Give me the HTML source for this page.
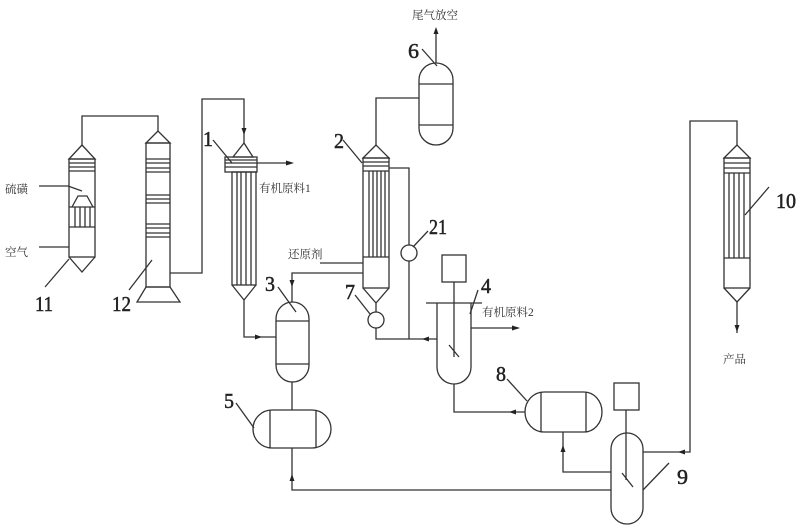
<!DOCTYPE html>
<html><head><meta charset="utf-8"><style>
html,body{margin:0;padding:0;background:#fff;}
svg{display:block;}
.n{font-family:"Liberation Serif",serif;font-size:21px;fill:#222;stroke:#222;stroke-width:0.5;}
.c{font-family:"Liberation Serif","Noto Serif CJK SC",serif;font-size:11.5px;fill:#333;}
</style></head><body>
<svg width="800" height="530" viewBox="0 0 800 530" xmlns="http://www.w3.org/2000/svg">
<g fill="none" stroke="#333" stroke-width="1.3">
<!-- Column 11 -->
<polyline points="82,145 82,116 158,116 158,131"/>
<polygon points="82,145 69,159 95,159"/>
<rect x="69" y="159" width="26" height="98"/>
<polyline points="69,257 82,272 95,257"/>
<line x1="69" y1="163" x2="95" y2="163"/><line x1="69" y1="167" x2="95" y2="167"/><line x1="69" y1="171" x2="95" y2="171"/>
<polyline points="72,207 78,196 87,196 93,207"/>
<line x1="69" y1="207" x2="95" y2="207"/><line x1="69" y1="227" x2="95" y2="227"/>
<line x1="75" y1="207" x2="75" y2="227"/><line x1="80" y1="207" x2="80" y2="227"/><line x1="85" y1="207" x2="85" y2="227"/><line x1="90" y1="207" x2="90" y2="227"/>
<polyline points="39,186 68,186 82,191"/>
<line x1="39" y1="247" x2="69" y2="247"/>
<line x1="69" y1="259" x2="45" y2="287"/>
<!-- Column 12 -->
<polygon points="158,131 146,143 170,143"/>
<rect x="146" y="143" width="24" height="144"/>
<line x1="146" y1="159" x2="170" y2="159"/><line x1="146" y1="163" x2="170" y2="163"/><line x1="146" y1="168" x2="170" y2="168"/><line x1="146" y1="172" x2="170" y2="172"/>
<line x1="146" y1="195" x2="170" y2="195"/><line x1="146" y1="199" x2="170" y2="199"/><line x1="146" y1="203" x2="170" y2="203"/>
<line x1="146" y1="224" x2="170" y2="224"/><line x1="146" y1="228" x2="170" y2="228"/><line x1="146" y1="233" x2="170" y2="233"/><line x1="146" y1="237" x2="170" y2="237"/>
<polygon points="146,287 170,287 180,302 137,302"/>
<polyline points="170,273 202,273 202,99 244,99 244,143"/>
<line x1="152" y1="260" x2="129" y2="290"/>
<!-- Column 1 -->
<polygon points="244,143 233,157 253,157"/>
<rect x="225" y="157" width="32" height="15"/>
<line x1="225" y1="160" x2="257" y2="160"/><line x1="225" y1="163" x2="257" y2="163"/><line x1="225" y1="167" x2="257" y2="167"/>
<rect x="232" y="172" width="24" height="113"/>
<line x1="237" y1="172" x2="237" y2="285"/><line x1="241" y1="172" x2="241" y2="285"/><line x1="246" y1="172" x2="246" y2="285"/><line x1="251" y1="172" x2="251" y2="285"/>
<polyline points="232,285 244,300 256,285"/>
<line x1="257" y1="163" x2="290" y2="163"/>
<line x1="213" y1="140" x2="232" y2="163"/>
<polyline points="244,300 244,337 276,337"/>
<!-- Vessel 3 -->
<path d="M276,319 A16.5,17 0 0 1 309,319 L309,365 A16.5,17 0 0 1 276,365 Z"/>
<line x1="276" y1="321" x2="309" y2="321"/><line x1="276" y1="364" x2="309" y2="364"/>
<line x1="278" y1="287" x2="296" y2="312"/>
<polyline points="363,273 292,273 292,302"/>
<line x1="292" y1="382" x2="292" y2="410"/>
<!-- Vessel 5 -->
<path d="M272,410 L312,410 A19,19 0 0 1 312,448 L272,448 A19,19 0 0 1 272,410 Z"/>
<line x1="270" y1="410" x2="270" y2="448"/><line x1="316" y1="410" x2="316" y2="448"/>
<line x1="236" y1="403" x2="254" y2="428"/>
<polyline points="292,448 292,490 611,490"/>
<!-- Column 2 -->
<polyline points="376,145 376,98 419,98"/>
<polygon points="376,145 363,158 389,158"/>
<rect x="363" y="158" width="26" height="130"/>
<line x1="363" y1="162" x2="389" y2="162"/><line x1="363" y1="166" x2="389" y2="166"/><line x1="363" y1="171" x2="389" y2="171"/>
<line x1="369" y1="171" x2="369" y2="257"/><line x1="373" y1="171" x2="373" y2="257"/><line x1="377" y1="171" x2="377" y2="257"/><line x1="381" y1="171" x2="381" y2="257"/><line x1="385" y1="171" x2="385" y2="257"/>
<line x1="363" y1="257" x2="389" y2="257"/>
<polyline points="363,288 376,303 389,288"/>
<line x1="376" y1="303" x2="376" y2="312"/>
<circle cx="376" cy="320" r="8"/>
<polyline points="376,328 376,339 437,339"/>
<line x1="320" y1="263" x2="363" y2="263"/>
<line x1="343" y1="140" x2="362" y2="163"/>
<line x1="355" y1="295" x2="370" y2="314"/>
<polyline points="389,168 409,168 409,245"/>
<circle cx="409" cy="253" r="8"/>
<line x1="409" y1="261" x2="409" y2="339"/>
<line x1="428" y1="231" x2="413" y2="247"/>
<!-- Vessel 6 -->
<path d="M419,80 A17,17 0 0 1 453,80 L453,128 A17,17 0 0 1 419,128 Z"/>
<line x1="419" y1="84" x2="453" y2="84"/><line x1="419" y1="125" x2="453" y2="125"/>
<line x1="436" y1="63" x2="436" y2="30"/>
<line x1="422" y1="49" x2="437" y2="66"/>
<!-- Vessel 4 -->
<rect x="442" y="255" width="24" height="27"/>
<line x1="454" y1="282" x2="454" y2="357"/>
<line x1="449" y1="345" x2="459" y2="357"/>
<line x1="426" y1="303" x2="482" y2="303"/>
<path d="M437,303 L437,367 A17,17 0 0 0 471,367 L471,303"/>
<line x1="471" y1="328" x2="518" y2="328"/>
<line x1="478" y1="290" x2="470" y2="314"/>
<polyline points="454,384 454,412 525,412"/>
<!-- Vessel 8 -->
<path d="M544,392 L584,392 A18,20 0 0 1 584,432 L544,432 A19,20 0 0 1 544,392 Z"/>
<line x1="541" y1="392" x2="541" y2="432"/><line x1="586" y1="392" x2="586" y2="432"/>
<line x1="507" y1="379" x2="527" y2="401"/>
<polyline points="563,432 563,472 611,472"/>
<!-- Vessel 9 -->
<rect x="614" y="383" width="25" height="27"/>
<line x1="626" y1="410" x2="626" y2="480"/>
<line x1="622" y1="473" x2="633" y2="487"/>
<path d="M611,449 A16,16 0 0 1 643,449 L643,508 A16,16 0 0 1 611,508 Z"/>
<polyline points="643,452 690,452 690,121 737,121 737,145"/>
<line x1="669" y1="463" x2="643" y2="490"/>
<!-- Column 10 -->
<polygon points="737,145 724,158 750,158"/>
<rect x="724" y="158" width="26" height="130"/>
<line x1="724" y1="163" x2="750" y2="163"/><line x1="724" y1="168" x2="750" y2="168"/><line x1="724" y1="173" x2="750" y2="173"/>
<line x1="729" y1="173" x2="729" y2="258"/><line x1="734" y1="173" x2="734" y2="258"/><line x1="739" y1="173" x2="739" y2="258"/><line x1="744" y1="173" x2="744" y2="258"/>
<line x1="724" y1="258" x2="750" y2="258"/>
<polyline points="724,288 737,302 750,288"/>
<line x1="737" y1="302" x2="737" y2="333"/>
<line x1="769" y1="187" x2="745" y2="215"/>
</g>
<!-- arrowheads -->
<g fill="#222">
<polygon points="244,135 241.5,128 246.5,128"/>
<polygon points="294,163 286,160.5 286,165.5"/>
<polygon points="292,287 289.5,280 294.5,280"/>
<polygon points="262,337 255,334.5 255,339.5"/>
<polygon points="292,474 289.5,481 294.5,481"/>
<polygon points="436,27 433.5,34 438.5,34"/>
<polygon points="422,339 429,336.5 429,341.5"/>
<polygon points="520,328 512,325.5 512,330.5"/>
<polygon points="509,412 516,409.5 516,414.5"/>
<polygon points="563,445 560.5,452 565.5,452"/>
<polygon points="678,452 685,449.5 685,454.5"/>
<polygon points="737,332 734.5,325 739.5,325"/>
</g>
<!-- numbers -->
<text class="n" x="35" y="311" textLength="18" lengthAdjust="spacingAndGlyphs">11</text>
<text class="n" x="112" y="311" textLength="19" lengthAdjust="spacingAndGlyphs">12</text>
<text class="n" x="203" y="146" textLength="10" lengthAdjust="spacingAndGlyphs">1</text>
<text class="n" x="334" y="148" textLength="10" lengthAdjust="spacingAndGlyphs">2</text>
<text class="n" x="265" y="291" textLength="10" lengthAdjust="spacingAndGlyphs">3</text>
<text class="n" x="481" y="293" textLength="10" lengthAdjust="spacingAndGlyphs">4</text>
<text class="n" x="224" y="408" textLength="10" lengthAdjust="spacingAndGlyphs">5</text>
<text class="n" x="408" y="58" textLength="11" lengthAdjust="spacingAndGlyphs">6</text>
<text class="n" x="345" y="299" textLength="10" lengthAdjust="spacingAndGlyphs">7</text>
<text class="n" x="496" y="381" textLength="10" lengthAdjust="spacingAndGlyphs">8</text>
<text class="n" x="677" y="484" textLength="11" lengthAdjust="spacingAndGlyphs">9</text>
<text class="n" x="776" y="208" textLength="20" lengthAdjust="spacingAndGlyphs">10</text>
<text class="n" x="429" y="234" textLength="18" lengthAdjust="spacingAndGlyphs">21</text>
<!-- labels -->
<text class="c" x="5" y="193">硫磺</text>
<text class="c" x="5" y="256">空气</text>
<text class="c" x="259" y="192">有机原料1</text>
<text class="c" x="288" y="258">还原剂</text>
<text class="c" x="412" y="19">尾气放空</text>
<text class="c" x="482" y="316">有机原料2</text>
<text class="c" x="723" y="363">产品</text>
</svg>
</body></html>
